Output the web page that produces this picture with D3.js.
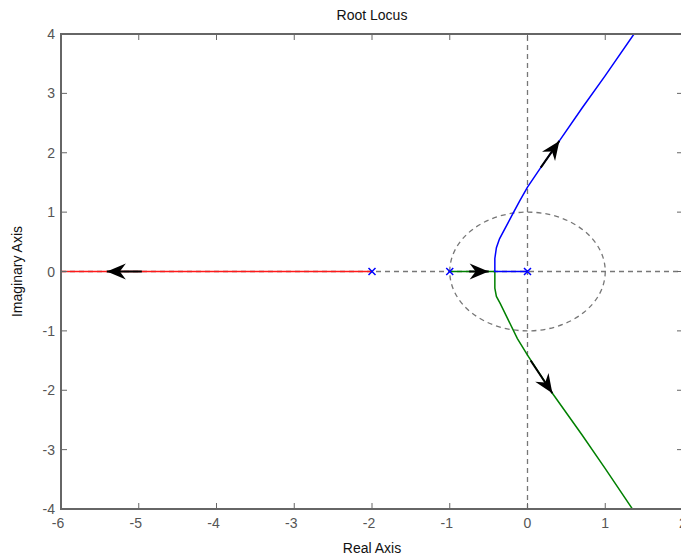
<!DOCTYPE html>
<html>
<head>
<meta charset="utf-8">
<script src="https://cdn.jsdelivr.net/npm/d3@7"></script>
<style>
	body { margin: 0; background: #fff; }
	text { font-family: "Liberation Sans", Arial, sans-serif; }
</style>
</head>
<body>
<script>
// poles of the open loop system
var poleRe = [0, -1, -2];
var poleIm = [0, 0, 0];

// branches (real part, imaginary part)
var blueRe = [0, -0.2, -0.42, -0.42, -0.40, -0.36, -0.19, -0.10, 0, 0.17, 0.41, 0.70, 1.00, 1.37];
var blueIm = [0, 0, 0, 0.22, 0.40, 0.55, 0.97, 1.19, 1.42, 1.75, 2.20, 2.75, 3.30, 4.00];
var greenRe = [-1, -0.7, -0.42, -0.42, -0.40, -0.35, -0.13, 0, 0.32, 0.70, 1.00, 1.36];
var greenIm = [0, 0, 0, -0.28, -0.42, -0.54, -1.13, -1.41, -2.05, -2.75, -3.32, -4.02];
var redRe = [-2, -6.5];
var redIm = [0, 0];

// arrows: from (x0,y0) to (x1,y1)
var arrowX0 = [-4.96, -0.75, 0.17, 0.04];
var arrowY0 = [0, 0, 1.75, -1.50];
var arrowX1 = [-5.41, -0.50, 0.41, 0.32];
var arrowY1 = [0, 0, 2.20, -2.05];

var xTicks = [-6, -5, -4, -3, -2, -1, 0, 1, 2];
var yTicks = [-4, -3, -2, -1, 0, 1, 2, 3, 4];

var W = 681, H = 560;
var plotL = 61, plotR = 683, plotT = 34, plotB = 509;

var x = d3.scaleLinear().domain([-6, 2]).range([plotL, plotR]);
var y = d3.scaleLinear().domain([-4, 4]).range([plotB, plotT]);

var svg = d3.select('body').append('svg')
	.attr('width', W)
	.attr('height', H);

svg.append('defs').append('clipPath').attr('id', 'plotclip')
	.append('rect')
	.attr('x', plotL).attr('y', plotT)
	.attr('width', plotR - plotL).attr('height', plotB - plotT);

var plot = svg.append('g').attr('clip-path', 'url(#plotclip)');

/*
/	GRID LINES AT ZERO AND UNIT CIRCLE
*/
plot.append('line')
	.attr('x1', x(-6)).attr('x2', x(2))
	.attr('y1', y(0)).attr('y2', y(0))
	.attr('stroke', '#777').attr('stroke-width', 1.3)
	.attr('stroke-dasharray', '5,4');
plot.append('line')
	.attr('x1', x(0)).attr('x2', x(0))
	.attr('y1', y(-4)).attr('y2', y(4))
	.attr('stroke', '#777').attr('stroke-width', 1.3)
	.attr('stroke-dasharray', '5,4');
plot.append('ellipse')
	.attr('cx', x(0)).attr('cy', y(0))
	.attr('rx', x(1) - x(0)).attr('ry', y(0) - y(1))
	.attr('fill', 'none')
	.attr('stroke', '#777').attr('stroke-width', 1.3)
	.attr('stroke-dasharray', '5,4');

/*
/	BRANCHES
*/
var line = d3.line()
	.x(function(d){ return x(d[0]); })
	.y(function(d){ return y(d[1]); });

function branch(re, im, color){
	var pts = re.map(function(v, i){ return [v, im[i]]; });
	plot.append('path')
		.attr('d', line(pts))
		.attr('fill', 'none')
		.attr('stroke', color)
		.attr('stroke-width', 1.5);
}
branch(redRe, redIm, '#ff1a1a');
branch(greenRe, greenIm, '#008000');
branch(blueRe, blueIm, '#0000ff');

/*
/	ARROWS
*/
arrowX0.forEach(function(d, i){
	var px0 = x(arrowX0[i]), py0 = y(arrowY0[i]);
	var px1 = x(arrowX1[i]), py1 = y(arrowY1[i]);
	var ang = Math.atan2(py1 - py0, px1 - px0) * 180 / Math.PI;
	plot.append('line')
		.attr('x1', px0).attr('y1', py0)
		.attr('x2', px1).attr('y2', py1)
		.attr('stroke', '#000').attr('stroke-width', 2);
	plot.append('path')
		.attr('d', 'M0,0 L-19,-8 L-13,0 L-19,8 Z')
		.attr('transform', 'translate(' + px1 + ',' + py1 + ') rotate(' + ang + ')')
		.attr('fill', '#000');
});

/*
/	POLES
*/
poleRe.forEach(function(d, i){
	var px = x(poleRe[i]), py = y(poleIm[i]);
	plot.append('path')
		.attr('d', 'M' + (px - 3.5) + ',' + (py - 3.5) + 'L' + (px + 3.5) + ',' + (py + 3.5)
			+ 'M' + (px - 3.5) + ',' + (py + 3.5) + 'L' + (px + 3.5) + ',' + (py - 3.5))
		.attr('stroke', '#0000ff').attr('stroke-width', 1.5);
});

/*
/	AXES BOX AND TICKS
*/
var axisColor = '#666';
svg.append('rect')
	.attr('x', plotL).attr('y', plotT)
	.attr('width', plotR - plotL).attr('height', plotB - plotT)
	.attr('fill', 'none')
	.attr('stroke', axisColor).attr('stroke-width', 2);

var ax = svg.append('g');
ax.selectAll('.tb').data(xTicks).enter().append('line')
	.attr('x1', function(d){ return x(d); }).attr('x2', function(d){ return x(d); })
	.attr('y1', plotB).attr('y2', plotB - 6)
	.attr('stroke', axisColor).attr('stroke-width', 1);
ax.selectAll('.tt').data(xTicks).enter().append('line')
	.attr('x1', function(d){ return x(d); }).attr('x2', function(d){ return x(d); })
	.attr('y1', plotT).attr('y2', plotT + 6)
	.attr('stroke', axisColor).attr('stroke-width', 1);
ax.selectAll('.tl').data(yTicks).enter().append('line')
	.attr('x1', plotL).attr('x2', plotL + 6)
	.attr('y1', function(d){ return y(d); }).attr('y2', function(d){ return y(d); })
	.attr('stroke', axisColor).attr('stroke-width', 1);
ax.selectAll('.tr').data(yTicks).enter().append('line')
	.attr('x1', plotR).attr('x2', plotR - 6)
	.attr('y1', function(d){ return y(d); }).attr('y2', function(d){ return y(d); })
	.attr('stroke', axisColor).attr('stroke-width', 1);

ax.selectAll('.xl').data(xTicks).enter().append('text')
	.attr('x', function(d){ return x(d) - (d < 0 ? 3 : 0); })
	.attr('y', plotB + 19)
	.attr('text-anchor', 'middle')
	.attr('font-size', '14px')
	.attr('fill', '#555')
	.text(function(d){ return d; });
ax.selectAll('.yl').data(yTicks).enter().append('text')
	.attr('x', plotL - 6)
	.attr('y', function(d){ return y(d) + 5; })
	.attr('text-anchor', 'end')
	.attr('font-size', '14px')
	.attr('fill', '#555')
	.text(function(d){ return d; });

/*
/	LABELS
*/
svg.append('text')
	.attr('x', (plotL + plotR) / 2).attr('y', 20)
	.attr('text-anchor', 'middle')
	.attr('font-size', '14px')
	.attr('fill', '#111')
	.text('Root Locus');
svg.append('text')
	.attr('x', (plotL + plotR) / 2).attr('y', 553)
	.attr('text-anchor', 'middle')
	.attr('font-size', '14px')
	.attr('fill', '#111')
	.text('Real Axis');
svg.append('text')
	.attr('transform', 'translate(22,' + y(0) + ') rotate(-90)')
	.attr('text-anchor', 'middle')
	.attr('font-size', '14px')
	.attr('fill', '#111')
	.text('Imaginary Axis');
</script>
</body>
</html>
